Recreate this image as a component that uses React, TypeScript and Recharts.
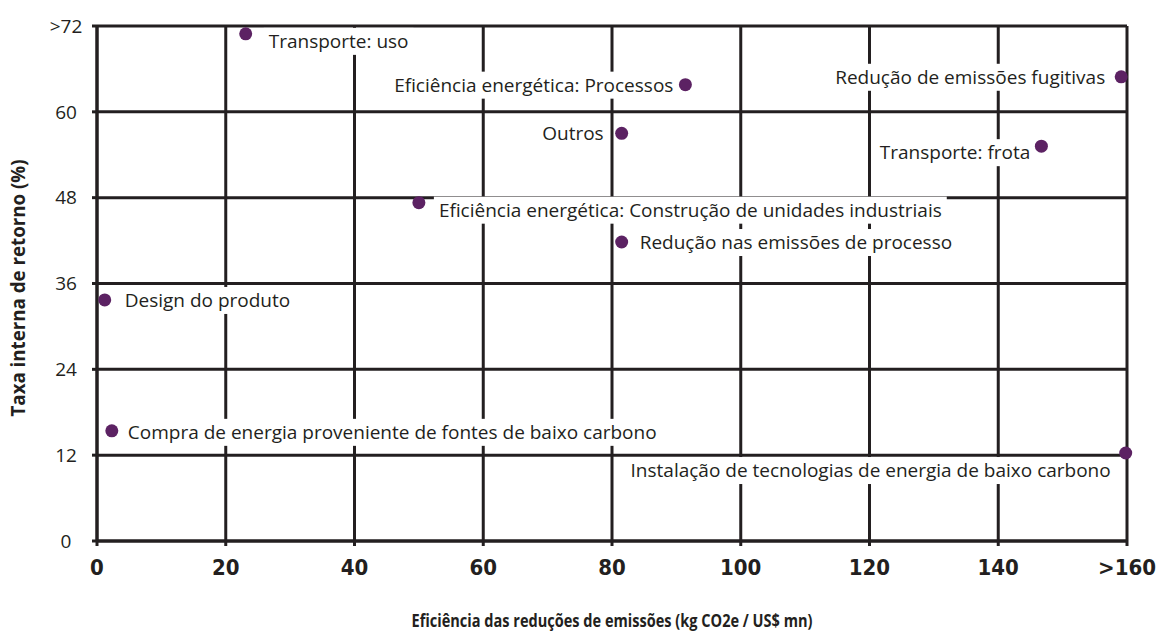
import { ScatterChart, Scatter, XAxis, YAxis, CartesianGrid } from 'recharts';

const names = [
  'Transporte: uso',
  'Eficiência energética: Processos',
  'Redução de emissões fugitivas',
  'Outros',
  'Transporte: frota',
  'Eficiência energética: Construção de unidades industriais',
  'Redução nas emissões de processo',
  'Design do produto',
  'Compra de energia proveniente de fontes de baixo carbono',
  'Instalação de tecnologias de energia de baixo carbono',
];
const efficiency = [23.1, 91.4, 159.1, 81.5, 146.7, 50.0, 81.5, 1.2, 2.3, 159.8];
const returnRate = [70.9, 63.8, 64.9, 57.0, 55.2, 47.3, 41.8, 33.7, 15.4, 12.3];

const xTicks = [0, 20, 40, 60, 80, 100, 120, 140, 160];
const yTicks = [0, 12, 24, 36, 48, 60, 72];

const data = names.map((name, i) => ({ name, x: efficiency[i], y: returnRate[i] }));

// label placement relative to the dot: anchor, dx, dy
const placement: Record<string, [string, number, number]> = {
  'Transporte: uso': ['start', 23, 7],
  'Eficiência energética: Processos': ['end', -12, 0],
  'Redução de emissões fugitivas': ['end', -16, 0],
  'Outros': ['end', -18, 0],
  'Transporte: frota': ['end', -11, 6],
  'Eficiência energética: Construção de unidades industriais': ['start', 20, 7],
  'Redução nas emissões de processo': ['start', 18, 0],
  'Design do produto': ['start', 20, 0],
  'Compra de energia proveniente de fontes de baixo carbono': ['start', 16, 1],
  'Instalação de tecnologias de energia de baixo carbono': ['end', -15, 17],
};

const INK = '#231f20';
const DOT = '#5c2263';
const LABEL_FONT = '"Open Sans", "Noto Sans", sans-serif';
const LABEL_SIZE = 19;
const COND = '"DejaVu Sans Condensed", "DejaVu Sans", sans-serif';

let ctx: CanvasRenderingContext2D | null = null;
const measure = (s: string) => {
  if (!ctx) ctx = document.createElement('canvas').getContext('2d');
  if (!ctx) return s.length * 9;
  ctx.font = `${LABEL_SIZE}px ${LABEL_FONT}`;
  return ctx.measureText(s).width;
};

const PointWithLabel = (props: any) => {
  const { cx, cy, payload } = props;
  const [anchor, dx, dy] = placement[payload.name] || ['start', 12, 0];
  const w = measure(payload.name);
  const tx = cx + dx;
  const ty = cy + dy;
  const left = anchor === 'end' ? tx - w : tx;
  return (
    <g>
      <rect x={left - 5} y={ty - 13} width={w + 10} height={27} fill="#fff" />
      <text x={tx} y={ty} textAnchor={anchor} dominantBaseline="central" fontSize={LABEL_SIZE} fontFamily={LABEL_FONT} fill={INK}>
        {payload.name}
      </text>
      <circle cx={cx} cy={cy} r={6.5} fill={DOT} />
    </g>
  );
};

const xFmt = (v: number) => (v === 160 ? '>160' : String(v));
const yFmt = (v: number) => (v === 72 ? '>72' : String(v));
const empty = () => <g />;

const App = () => {
  return (
    <div style={{ position: 'absolute', left: 0, top: 0, background: '#fff' }}>
      <ScatterChart width={1156} height={633} margin={{ top: 26, right: 29, left: 37, bottom: 32 }}>
        <CartesianGrid stroke={INK} strokeWidth={3} />
        <XAxis
          type="number"
          dataKey="x"
          domain={[0, 160]}
          ticks={xTicks}
          tickFormatter={xFmt}
          height={60}
          stroke={INK}
          strokeWidth={3}
          tickSize={5}
          tickMargin={13}
          tick={{ fontSize: 22, fontWeight: 700, fontFamily: COND, fill: INK }}
          label={() => (
            <text
              x={612}
              y={627}
              textAnchor="middle"
              fontSize={17}
              fontWeight={700}
              fontFamily={LABEL_FONT}
              fill={INK}
              textLength={401}
              lengthAdjust="spacingAndGlyphs"
            >
              Eficiência das reduções de emissões (kg CO2e / US$ mn)
            </text>
          )}
        />
        <YAxis
          type="number"
          dataKey="y"
          domain={[0, 72]}
          ticks={yTicks}
          tickFormatter={yFmt}
          width={60}
          stroke={INK}
          strokeWidth={3}
          tickSize={5}
          tickMargin={26}
          tick={{ fontSize: 19, fontFamily: LABEL_FONT, fill: INK, textAnchor: 'middle' }}
          label={() => (
            <text
              x={18}
              y={288}
              transform="rotate(-90, 18, 288)"
              textAnchor="middle"
              dominantBaseline="central"
              fontSize={19}
              fontWeight={700}
              fontFamily={LABEL_FONT}
              fill={INK}
              textLength={257}
              lengthAdjust="spacingAndGlyphs"
            >
              Taxa interna de retorno (%)
            </text>
          )}
        />
        <XAxis xAxisId="top" orientation="top" type="number" domain={[0, 160]} ticks={xTicks} height={0} stroke={INK} strokeWidth={3} tickSize={5} tick={empty} />
        <YAxis yAxisId="right" orientation="right" type="number" domain={[0, 72]} ticks={yTicks} width={0} stroke={INK} strokeWidth={3} tickSize={5} tick={empty} />
        <Scatter data={data} shape={PointWithLabel} isAnimationActive={false} />
      </ScatterChart>
    </div>
  );
};

export default App;
